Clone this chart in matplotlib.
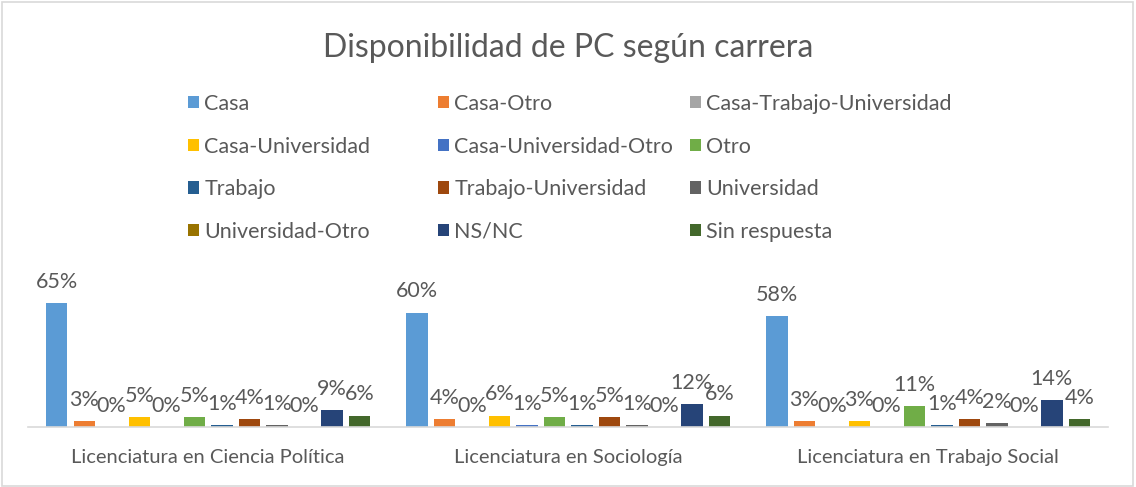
import matplotlib
matplotlib.use("Agg")
import matplotlib.pyplot as plt
from matplotlib.patches import Patch, Rectangle
import numpy as np

plt.rcParams['font.family'] = ['Lato', 'DejaVu Sans']

categories = ["Licenciatura en Ciencia Política", "Licenciatura en Sociología",
              "Licenciatura en Trabajo Social"]
series = ["Casa", "Casa-Otro", "Casa-Trabajo-Universidad", "Casa-Universidad",
          "Casa-Universidad-Otro", "Otro", "Trabajo", "Trabajo-Universidad",
          "Universidad", "Universidad-Otro", "NS/NC", "Sin respuesta"]
values = [
    [65, 3, 0, 5, 0, 5, 1, 4, 1, 0, 9, 6],
    [60, 4, 0, 6, 1, 5, 1, 5, 1, 0, 12, 6],
    [58, 3, 0, 3, 0, 11, 1, 4, 2, 0, 14, 4],
]
colors = ["#5B9BD5", "#ED7D31", "#A5A5A5", "#FFC000", "#4472C4", "#70AD47",
          "#255E91", "#9E480E", "#636363", "#997300", "#264478", "#43682B"]

W, H = 1136, 487
fig = plt.figure(figsize=(W / 100, H / 100), dpi=100)
fig.patch.set_facecolor("white")
fig.add_artist(Rectangle((0.002, 0.003), 0.995, 0.993, transform=fig.transFigure,
                         fill=False, edgecolor="#D9D9D9", linewidth=1.2))

ax_left, ax_right = 28 / W, 1108 / W
ax_bottom = (H - 427) / H
ax_h = 160 / H
ax = fig.add_axes([ax_left, ax_bottom, ax_right - ax_left, ax_h])
px_per_pct = 124 / 65
ax.set_ylim(0, 160 / px_per_pct)
ax.set_xlim(-0.5, len(categories) - 0.5)

slot = 27.5 / 360
bw = 21.5 / 360
x = np.arange(len(categories))
vals = np.array(values)
text_col = "#595959"
for i, s in enumerate(series):
    pos = x + (i - (len(series) - 1) / 2) * slot
    ax.bar(pos, vals[:, i], width=bw, color=colors[i], label=s)
    for xp, v in zip(pos, vals[:, i]):
        ax.annotate(f"{v}%", (xp, v), xytext=(0, 8), textcoords="offset points",
                    ha="center", va="bottom", fontsize=15.5, color=text_col)

for sp in ["top", "left", "right"]:
    ax.spines[sp].set_visible(False)
ax.spines["bottom"].set_color("#D9D9D9")
ax.spines["bottom"].set_linewidth(1.2)
ax.set_yticks([])
ax.set_xticks(x)
ax.set_xticklabels(categories, fontsize=14.5, color=text_col)
ax.tick_params(axis="x", length=0, pad=16)

fig.text(0.5, (H - 48) / H, "Disponibilidad de PC según carrera", ha="center",
         va="center", fontsize=23, color=text_col)

handles = [Patch(facecolor=c, label=s) for s, c in zip(series, colors)]
col_x = [188, 438, 690]
for ci in range(3):
    hs = [handles[r * 3 + ci] for r in range(4)]
    leg = fig.legend(handles=hs, loc="upper left",
                     bbox_to_anchor=(col_x[ci] / W, (H - 94) / H),
                     frameon=False, fontsize=15.5, handlelength=0.5,
                     handleheight=0.5, handletextpad=0.25, labelspacing=1.05,
                     borderpad=0, borderaxespad=0)
    for t in leg.get_texts():
        t.set_color(text_col)

fig.savefig("out.png", dpi=100)
